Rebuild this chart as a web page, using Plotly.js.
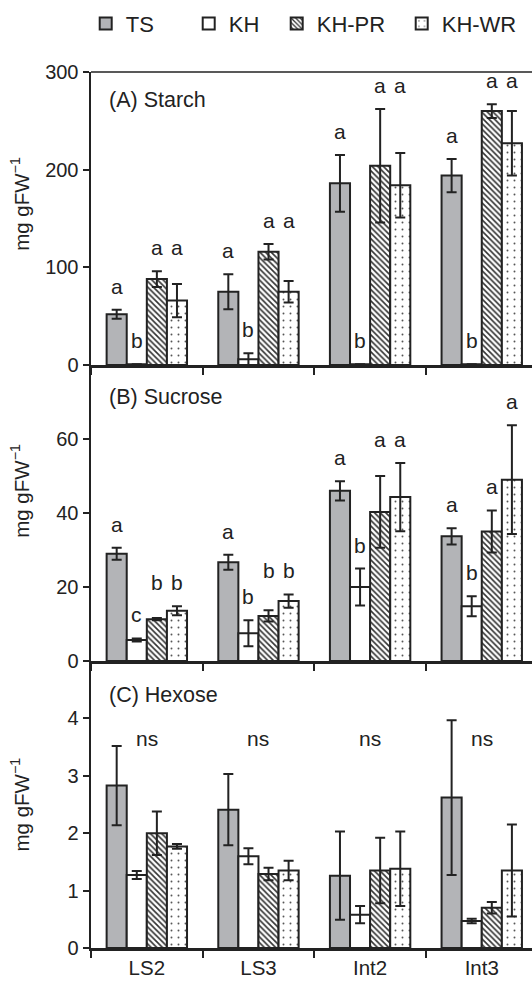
<!DOCTYPE html>
<html>
<head>
<meta charset="utf-8">
<script src="https://cdn.plot.ly/plotly-3.0.1.min.js"></script>
<style>
  html, body { margin: 0; padding: 0; background: #ffffff; overflow: hidden; }
  #chart { width: 532px; height: 984px; }
</style>
</head>
<body>
<div id="chart"></div>
<script>
// ---------- data ----------
var categories = ['LS2', 'LS3', 'Int2', 'Int3'];
var seriesNames = ['TS', 'KH', 'KH-PR', 'KH-WR'];

// (A) Starch, mg gFW-1
var starchTS = [52, 75, 186, 194];
var starchTSerr = [4.5, 18, 29, 17];
var starchKH = [0.8, 6, 0.8, 0.8];
var starchKHerr = [0, 6, 0, 0];
var starchPR = [88, 116, 204, 260];
var starchPRerr = [8, 8, 58, 7];
var starchWR = [66, 75, 184, 227];
var starchWRerr = [17, 11, 33, 33];

// (B) Sucrose, mg gFW-1
var sucroseTS = [29, 26.7, 46, 33.7];
var sucroseTSerr = [1.6, 2, 2.6, 2.2];
var sucroseKH = [5.7, 7.5, 20, 14.8];
var sucroseKHerr = [0.4, 3.5, 5, 2.7];
var sucrosePR = [11.3, 12.2, 40.3, 35];
var sucrosePRerr = [0.3, 1.5, 9.7, 5.7];
var sucroseWR = [13.6, 16.2, 44.3, 49];
var sucroseWRerr = [1.2, 1.8, 9.2, 14.7];

// (C) Hexose, mg gFW-1
var hexoseTS = [2.83, 2.41, 1.26, 2.62];
var hexoseTSerr = [0.69, 0.62, 0.77, 1.35];
var hexoseKH = [1.27, 1.6, 0.58, 0.47];
var hexoseKHerr = [0.07, 0.14, 0.15, 0.04];
var hexosePR = [2.0, 1.29, 1.35, 0.7];
var hexosePRerr = [0.38, 0.11, 0.57, 0.1];
var hexoseWR = [1.77, 1.35, 1.38, 1.35];
var hexoseWRerr = [0.04, 0.17, 0.65, 0.8];

// significance letters (per series, per category)
var starchLetters = [['a','a','a','a'], ['b','b','b','b'], ['a','a','a','a'], ['a','a','a','a']];
var sucroseLetters = [['a','a','a','a'], ['c','b','b','b'], ['b','b','a','a'], ['b','b','a','a']];
var hexoseLetters = ['ns', 'ns', 'ns', 'ns'];

var panelTitles = ['(A) Starch', '(B) Sucrose', '(C) Hexose'];
var yTitle = 'mg gFW<sup>\u22121</sup>';

// ---------- styling ----------
var FONT = 'Liberation Sans, Arial, Helvetica, sans-serif';
var INK = '#222222';
var panels = [
  {vals: [starchTS, starchKH, starchPR, starchWR], errs: [starchTSerr, starchKHerr, starchPRerr, starchWRerr], letters: starchLetters, range: [0, 300], tickvals: [0, 100, 200, 300]},
  {vals: [sucroseTS, sucroseKH, sucrosePR, sucroseWR], errs: [sucroseTSerr, sucroseKHerr, sucrosePRerr, sucroseWRerr], letters: sucroseLetters, range: [0, 80], tickvals: [0, 20, 40, 60]},
  {vals: [hexoseTS, hexoseKH, hexosePR, hexoseWR], errs: [hexoseTSerr, hexoseKHerr, hexosePRerr, hexoseWRerr], letters: null, range: [0, 5], tickvals: [0, 1, 2, 3, 4]}
];
var domains = [[0.6655, 1], [0.3276, 0.6655], [0, 0.3276]];

var seriesStyle = [
  {color: '#b3b4b7', pattern: {shape: ''}},
  {color: '#ffffff', pattern: {shape: ''}},
  {color: '#ffffff', pattern: {shape: '\\', fgcolor: '#333333', bgcolor: '#ffffff', size: 4, solidity: 0.4}},
  {color: '#ffffff', pattern: {shape: '.', fgcolor: '#555555', bgcolor: '#ffffff', size: 7, solidity: 0.06}}
];
var legendWidths = [58, 43, 80, 72];

var BARGAP = 0.28;
var nSeries = seriesNames.length;
var barW = (1 - BARGAP) / nSeries;

var traces = [];
var annotations = [];

panels.forEach(function (p, pi) {
  var ax = pi === 0 ? '' : String(pi + 1);
  for (var s = 0; s < nSeries; s++) {
    traces.push({
      type: 'bar',
      name: seriesNames[s],
      x: categories,
      y: p.vals[s],
      xaxis: 'x' + ax,
      yaxis: 'y' + ax,
      legendgroup: seriesNames[s],
      showlegend: pi === 0,
      legendwidth: legendWidths[s],
      marker: {
        color: seriesStyle[s].color,
        pattern: seriesStyle[s].pattern,
        line: {color: INK, width: 2}
      },
      error_y: {type: 'data', array: p.errs[s], visible: true, color: INK, thickness: 2, width: 5},
      hoverinfo: 'skip'
    });
  }
  if (p.letters) {
    var span = p.range[1] - p.range[0];
    for (var c = 0; c < categories.length; c++) {
      var tops = p.vals.map(function (v, s) { return v[c] + p.errs[s][c]; });
      // KH-PR and KH-WR letters share one height when their bars end close together
      var pairTop = Math.max(tops[2], tops[3]);
      var paired = Math.abs(tops[2] - tops[3]) < 0.2 * span;
      for (var s2 = 0; s2 < nSeries; s2++) {
        var off = -0.5 + BARGAP / 2 + barW * (s2 + 0.5);
        annotations.push({
          x: c + off, y: (s2 >= 2 && paired) ? pairTop : tops[s2],
          xref: 'x' + ax, yref: 'y' + ax,
          text: p.letters[s2][c], showarrow: false,
          xanchor: 'center', yanchor: 'bottom', yshift: 10,
          font: {family: FONT, size: 21, color: INK}
        });
      }
    }
  }
  // panel title
  annotations.push({
    x: 16 / 441, xref: 'paper', y: [0.904, 0.892, 0.882][pi], yref: 'y' + ax + ' domain',
    text: panelTitles[pi], showarrow: false, xanchor: 'left', yanchor: 'middle',
    font: {family: FONT, size: 21.5, color: INK}
  });
  // y title
  annotations.push({
    x: -71 / 441, xref: 'paper', y: [0.55, 0.575, 0.5][pi], yref: 'y' + ax + ' domain',
    text: yTitle, showarrow: false, textangle: -90, xanchor: 'center', yanchor: 'middle',
    font: {family: FONT, size: 20.5, color: INK}
  });
});

// hexose "ns" labels at group centres
hexoseLetters.forEach(function (t, c) {
  annotations.push({
    x: c, xref: 'x3', y: 0.73, yref: 'y3 domain', text: t, showarrow: false,
    xanchor: 'center', yanchor: 'middle', font: {family: FONT, size: 21, color: INK}
  });
});

var layout = {
  width: 532, height: 984,
  margin: {l: 91, r: 0, t: 72, b: 36},
  paper_bgcolor: '#ffffff', plot_bgcolor: '#ffffff',
  font: {family: FONT, size: 20, color: INK},
  barmode: 'group', bargap: BARGAP, bargroupgap: 0,
  showlegend: true,
  legend: {
    orientation: 'h', x: -0.012, xanchor: 'left', y: 1.055, yanchor: 'middle',
    font: {family: FONT, size: 22, color: INK}, bgcolor: 'rgba(0,0,0,0)', traceorder: 'normal'
  },
  annotations: annotations,
  shapes: [{type: 'line', xref: 'paper', yref: 'paper', x0: 0, x1: 1, y0: 1, y1: 1, line: {color: INK, width: 1.5}}]
};

panels.forEach(function (p, pi) {
  var ax = pi === 0 ? '' : String(pi + 1);
  layout['xaxis' + ax] = {
    type: 'category', anchor: 'y' + ax, domain: [0, 1], range: [-0.5, 3.45],
    showline: true, linecolor: INK, linewidth: 2.5, showgrid: false, zeroline: false,
    ticks: 'outside', tickson: 'boundaries', ticklen: 7, tickwidth: 2, tickcolor: INK,
    showticklabels: pi === 2, tickfont: {family: FONT, size: 20.5, color: INK},
    fixedrange: true
  };
  layout['yaxis' + ax] = {
    anchor: 'x' + ax, domain: domains[pi], range: p.range, tickvals: p.tickvals,
    showline: true, linecolor: INK, linewidth: 2.5, showgrid: false, zeroline: false,
    ticks: 'outside', ticklen: 6, tickwidth: 2, tickcolor: INK,
    tickfont: {family: FONT, size: 20, color: INK}, fixedrange: true
  };
});

Plotly.newPlot('chart', traces, layout, {displayModeBar: false, staticPlot: true});
</script>
</body>
</html>
